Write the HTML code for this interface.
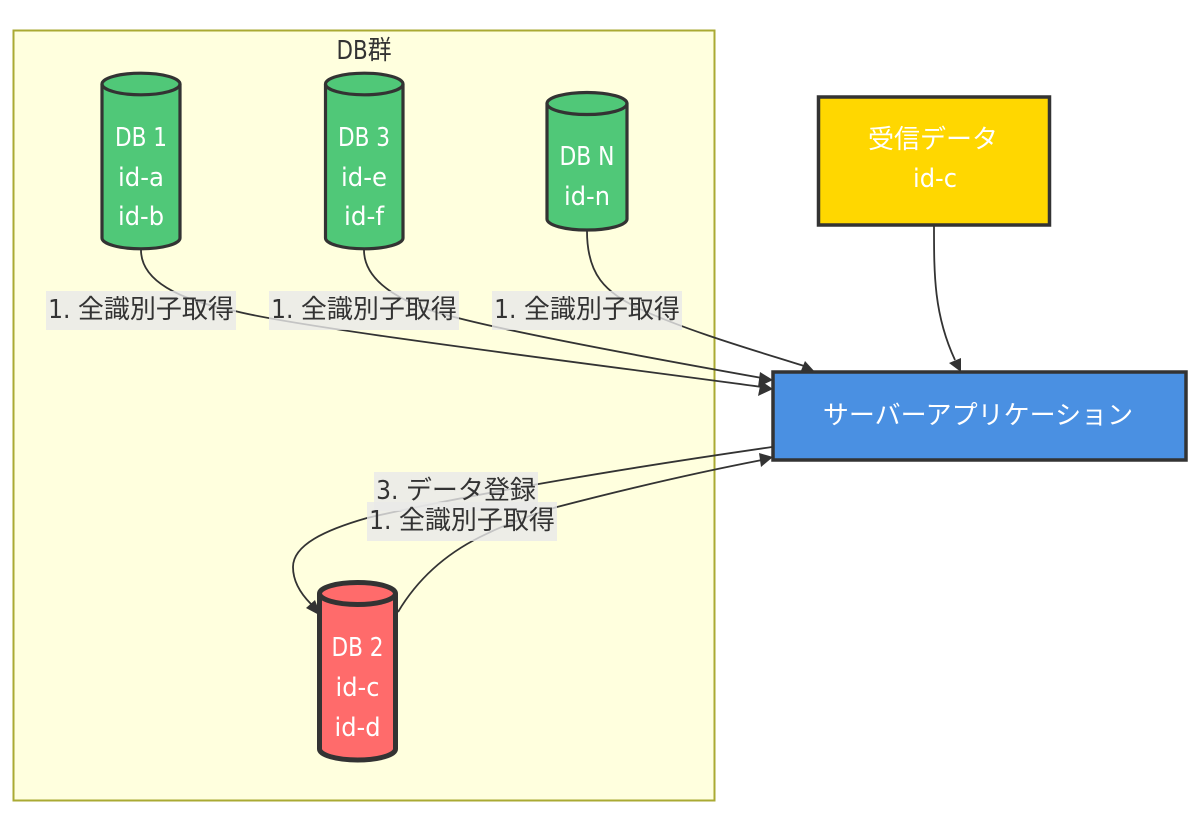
<!DOCTYPE html>
<html><head><meta charset="utf-8"><style>
html,body{margin:0;padding:0;background:#fff}
svg{display:block}
text{font-family:"DejaVu Sans Condensed","Noto Sans CJK JP",sans-serif;font-stretch:condensed;font-size:26px;text-anchor:middle}
.w{fill:#fff}.d{fill:#333}
.e{fill:none;stroke:#333;stroke-width:1.8}
.l{fill:#e8e8e8;fill-opacity:.8}
.n{stroke:#333;stroke-width:3.2}
.a{fill:#333}
</style></head><body>
<svg width="1200" height="832" viewBox="0 0 1200 832" xmlns="http://www.w3.org/2000/svg">
<rect x="13.5" y="30.5" width="701" height="770" fill="#ffffde" stroke="#aaaa33" stroke-width="2"/>
<text class="d" x="364" y="59" textLength="55" lengthAdjust="spacingAndGlyphs">DB群</text>

<path class="e" d="M141 250C141 285 190 302 235 311C300 328 600 365 762 387"/>
<path class="e" d="M364 250C364 285 410 307 458 318C520 334 650 358 762 378"/>
<path class="e" d="M587 231C587 275 605 292 640 309C690 332 760 352 804 366"/>
<path class="e" d="M934 226C934 275 934 315 955 360"/>
<path class="e" d="M772 447C640 466 480 492 367 518C325 530 293 545 293 567C293 582 302 595 311 604"/>
<path class="e" d="M398 612C420 575 450 552 480 537C510 522 540 512 557 507C630 488 700 472 762 460"/>
<polygon class="a" points="773,380 760,372 758,387"/>
<polygon class="a" points="773,389 761,381 758,396"/>
<polygon class="a" points="815,372 805,361 800,373"/>
<polygon class="a" points="961,372 949,363 961,358"/>
<polygon class="a" points="321,616 306,608 315,600"/>
<polygon class="a" points="773,457 759,453 761,467"/>

<rect class="l" x="46" y="291" width="190" height="39"/>
<rect class="l" x="269" y="291" width="190" height="39"/>
<rect class="l" x="492" y="291" width="190" height="39"/>
<rect class="l" x="374" y="472" width="164" height="39"/>
<rect class="l" x="367" y="502" width="190" height="39"/>
<text class="d" x="141" y="318">1. 全識別子取得</text>
<text class="d" x="364" y="318">1. 全識別子取得</text>
<text class="d" x="587" y="318">1. 全識別子取得</text>
<text class="d" x="456" y="499">3. データ登録</text>
<text class="d" x="462" y="529">1. 全識別子取得</text>

<g class="n" fill="#50c878">
<path d="M102 84A39 10.8 0 0 1 180 84V238A39 10.8 0 0 1 102 238Z"/>
<path fill="none" d="M102 84A39 10.8 0 0 0 180 84"/>
<path d="M325.5 84A38.75 10.8 0 0 1 403 84V238A38.75 10.8 0 0 1 325.5 238Z"/>
<path fill="none" d="M325.5 84A38.75 10.8 0 0 0 403 84"/>
<path d="M547 103.5A40 11 0 0 1 627 103.5V219A40 11 0 0 1 547 219Z"/>
<path fill="none" d="M547 103.5A40 11 0 0 0 627 103.5"/>
</g>
<g stroke="#333" stroke-width="5" fill="#ff6b6b">
<path d="M319.5 593.5A38 11 0 0 1 395.5 593.5V749A38 11 0 0 1 319.5 749Z"/>
<path fill="none" d="M319.5 593.5A38 11 0 0 0 395.5 593.5"/>
</g>
<rect x="818.5" y="97" width="231" height="128" fill="#ffd700" stroke="#333" stroke-width="3.5"/>
<rect x="773" y="372" width="413" height="88" fill="#4a90e2" stroke="#333" stroke-width="3.5"/>

<text class="w" x="141" y="146" textLength="52" lengthAdjust="spacingAndGlyphs">DB 1</text>
<text class="w" x="141" y="186" textLength="46" lengthAdjust="spacingAndGlyphs">id-a</text>
<text class="w" x="141" y="225" textLength="46" lengthAdjust="spacingAndGlyphs">id-b</text>
<text class="w" x="364" y="146" textLength="52" lengthAdjust="spacingAndGlyphs">DB 3</text>
<text class="w" x="364" y="186" textLength="46" lengthAdjust="spacingAndGlyphs">id-e</text>
<text class="w" x="364" y="225" textLength="40" lengthAdjust="spacingAndGlyphs">id-f</text>
<text class="w" x="587" y="165" textLength="55" lengthAdjust="spacingAndGlyphs">DB N</text>
<text class="w" x="587" y="205" textLength="46" lengthAdjust="spacingAndGlyphs">id-n</text>
<text class="w" x="357.5" y="656" textLength="52" lengthAdjust="spacingAndGlyphs">DB 2</text>
<text class="w" x="357.5" y="696" textLength="44" lengthAdjust="spacingAndGlyphs">id-c</text>
<text class="w" x="357.5" y="736" textLength="46" lengthAdjust="spacingAndGlyphs">id-d</text>
<text class="w" x="933" y="148">受信データ</text>
<text class="w" x="935" y="187" textLength="44" lengthAdjust="spacingAndGlyphs">id-c</text>
<text class="w" x="978" y="424">サーバーアプリケーション</text>
</svg>
</body></html>
